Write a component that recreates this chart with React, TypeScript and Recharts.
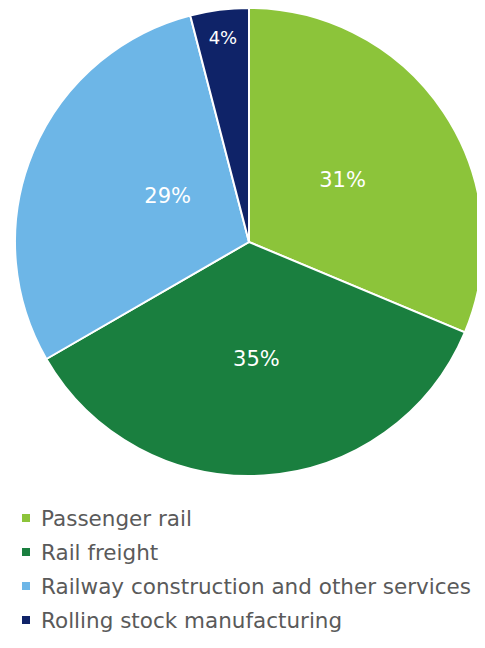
import { PieChart, Pie, Cell, Legend } from "recharts";

const segments = ["Passenger rail", "Rail freight", "Railway construction and other services", "Rolling stock manufacturing"];
const shares = [31, 35, 29, 4];
const colors = ["#8cc43a", "#1a7f3f", "#6db6e7", "#0f2368"];

const data = segments.map((name, i) => ({ name, value: shares[i] }));

const RADIAN = Math.PI / 180;
const labelRadius = [0.48, 0.5, 0.4, 0.88];
// small angular nudge (degrees) so labels sit where the original put them
const labelTurn = [0, 0, -7, 0];

function renderLabel(props: any) {
  const { cx, cy, midAngle, outerRadius, index, value } = props;
  const r = outerRadius * labelRadius[index];
  const a = (midAngle + labelTurn[index]) * RADIAN;
  const x = cx + r * Math.cos(-a);
  const y = cy + r * Math.sin(-a);
  return (
    <text
      x={x}
      y={y}
      fill="#ffffff"
      fontSize={index === 3 ? 18 : 21}
      fontFamily="DejaVu Sans, Verdana, sans-serif"
      textAnchor="middle"
      dominantBaseline="central"
    >
      {`${value}%`}
    </text>
  );
}

function LegendList() {
  return (
    <div style={{ fontFamily: "DejaVu Sans, Verdana, sans-serif", fontSize: 21.5, color: "#5a5a5a" }}>
      {data.map((d, i) => (
        <div key={d.name} style={{ display: "flex", alignItems: "center", height: 34 }}>
          <span
            style={{
              display: "inline-block",
              width: 8,
              height: 8,
              background: colors[i],
              marginRight: 11,
            }}
          />
          <span style={{ whiteSpace: "nowrap" }}>{d.name}</span>
        </div>
      ))}
    </div>
  );
}

export default function App() {
  return (
    <PieChart width={477} height={640}>
      <Pie
        data={data}
        dataKey="value"
        cx={236}
        cy={229}
        outerRadius={234}
        startAngle={90}
        endAngle={-270}
        stroke="#ffffff"
        strokeWidth={2}
        label={renderLabel}
        labelLine={false}
        isAnimationActive={false}
      >
        {data.map((d, i) => (
          <Cell key={d.name} fill={colors[i]} />
        ))}
      </Pie>
      <Legend
        content={<LegendList />}
        wrapperStyle={{ top: 493, left: 14, width: 460 }}
      />
    </PieChart>
  );
}
